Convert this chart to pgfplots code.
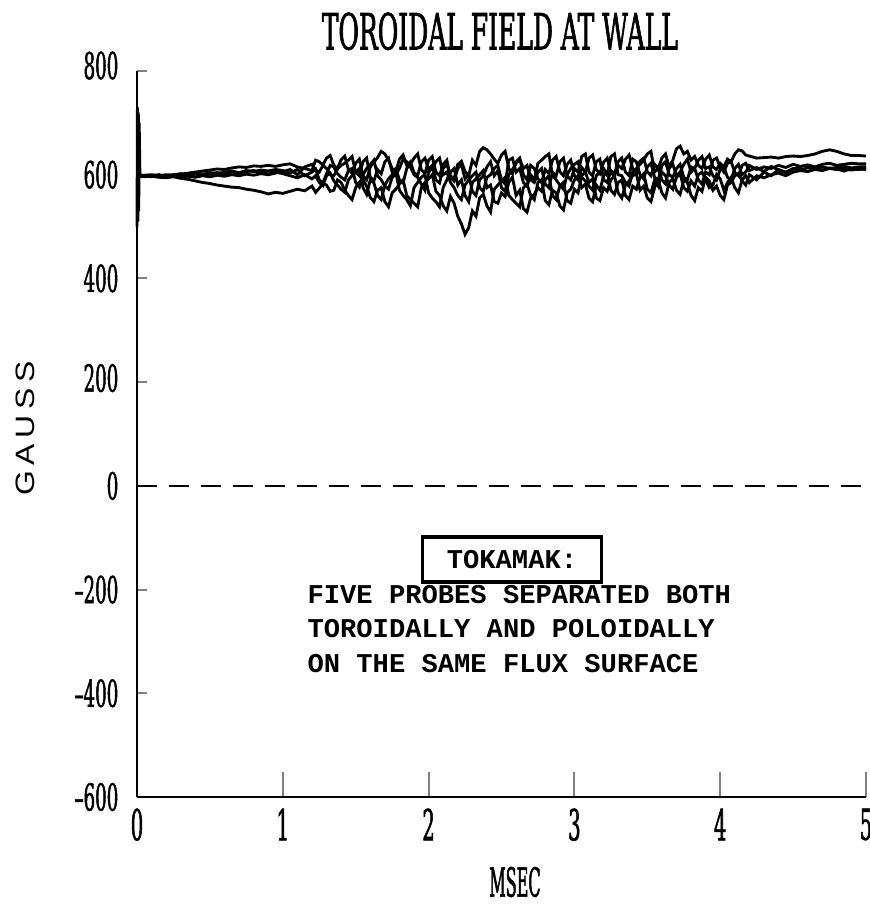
\documentclass[border=0pt]{standalone}
\usepackage{fontspec}
\usepackage{pgfplots}
\usepackage{pgfplotstable}
\pgfplotsset{compat=1.18}
\setmainfont{DejaVu Serif}
\newfontfamily\condy[FakeStretch=0.49, FakeBold=1.2]{DejaVu Serif}
\newfontfamily\condx[FakeStretch=0.46, FakeBold=1.2]{DejaVu Serif}
\newfontfamily\condt[FakeStretch=0.5, FakeBold=1.2]{DejaVu Serif}
\newfontfamily\condm[FakeStretch=0.4, FakeBold=1.2]{DejaVu Serif}
\newfontfamily\gaussfont[FakeStretch=1.2, LetterSpace=22]{Liberation Sans}
\newfontfamily\typefont{Liberation Mono}

% five probe signals, gauss vs msec
\pgfplotstableread{
x     a   b   c   d   e
0.00  598 597 598 597 599
0.05  598 596 599 598 597
0.10  597 597 600 596 598
0.15  599 595 598 599 600
0.20  598 594 600 597 596
0.25  600 596 599 598 597
0.30  601 593 602 600 595
0.35  603 591 600 598 597
0.40  605 588 603 601 595
0.45  607 585 601 599 598
0.50  609 583 604 602 596
0.55  611 580 602 604 599
0.60  610 578 605 602 597
0.65  613 576 607 605 600
0.70  615 575 604 603 598
0.75  614 572 608 606 601
0.80  617 570 606 608 599
0.85  616 567 609 604 602
0.90  618 563 607 607 600
0.95  616 566 610 605 603
1.00  619 564 608 602 606
1.05  621 568 603 598 610
1.10  615 572 610 594 600
1.15  612 569 598 600 615
1.20  608 578 605 592 620
1.225 628 566 611 598 609
1.25  625 574 590 585 605
1.275 619 583 584 579 618
1.30  632 580 602 598 612
1.325 637 568 618 603 600
1.35  618 570 615 588 598
1.375 612 590 602 580 611
1.40  629 585 595 572 618
1.425 636 570 590 566 622
1.45  610 560 608 590 628
1.475 603 552 612 598 635
1.50  622 575 585 605 605
1.525 630 586 576 612 598
1.55  598 590 600 575 625
1.575 590 578 612 562 632
1.60  615 556 620 590 595
1.625 624 548 628 584 588
1.65  633 570 598 560 610
1.675 645 575 590 552 602
1.70  640 548 578 580 625
1.725 628 538 572 592 632
1.75  612 565 595 600 605
1.775 605 572 600 605 612
1.80  630 582 612 570 590
1.825 638 590 630 560 584
1.85  618 560 625 552 612
1.875 625 552 615 540 620
1.90  604 545 600 575 632
1.925 598 538 595 585 640
1.95  625 575 582 595 610
1.975 632 585 570 600 602
2.00  610 592 605 565 628
2.025 618 600 612 555 635
2.05  590 568 625 548 605
2.075 584 560 632 538 598
2.10  612 540 600 575 620
2.125 620 530 605 590 628
2.15  598 558 585 605 595
2.175 592 545 575 612 588
2.20  620 520 560 580 612
2.225 626 505 552 590 620
2.25  606 485 580 560 592
2.275 598 498 590 548 600
2.30  628 530 598 585 568
2.325 618 520 605 592 560
2.35  645 555 575 600 590
2.375 652 562 568 608 598
2.40  648 540 595 575 615
2.425 640 528 600 580 625
2.45  630 572 612 548 598
2.475 622 580 618 545 608
2.50  638 588 590 565 575
2.525 645 595 582 558 568
2.55  612 560 628 585 600
2.575 602 552 632 595 610
2.60  625 545 605 560 622
2.625 632 538 612 570 630
2.65  600 575 585 535 612
2.675 590 582 578 528 618
2.70  618 560 600 555 590
2.725 612 552 590 562 585
2.75  592 585 622 575 605
2.775 585 590 628 568 612
2.80  610 550 635 590 582
2.825 602 542 640 598 575
2.85  628 570 598 560 605
2.875 635 565 590 552 598
2.90  606 540 580 578 625
2.925 598 532 572 585 632
2.95  620 565 600 550 598
2.975 628 572 612 545 590
3.00  598 590 620 572 612
3.025 590 598 625 565 605
3.05  614 575 595 598 635
3.075 605 582 588 605 640
3.10  632 555 578 585 605
3.125 638 548 570 592 598
3.15  610 580 598 555 625
3.175 602 570 605 550 630
3.20  624 598 612 575 590
3.225 632 605 600 568 585
3.25  603 570 635 590 608
3.275 598 562 640 598 602
3.30  618 585 600 565 625
3.325 612 590 598 555 632
3.35  630 560 585 580 605
3.375 638 552 578 588 598
3.40  612 578 605 598 630
3.425 605 572 612 602 625
3.45  626 595 620 570 600
3.475 632 602 628 578 592
3.50  606 572 640 555 615
3.525 598 565 645 548 622
3.55  620 590 605 575 595
3.575 612 578 612 590 590
3.60  632 605 590 565 618
3.625 640 598 582 555 625
3.65  615 580 612 585 600
3.675 628 572 620 592 595
3.70  650 595 598 570 612
3.725 655 602 605 562 620
3.75  640 575 620 590 595
3.775 645 568 630 585 590
3.80  628 588 605 560 615
3.825 635 578 612 550 612
3.85  618 600 628 575 590
3.875 612 605 635 568 582
3.90  630 590 612 595 605
3.925 638 575 615 588 600
3.95  615 580 598 570 628
3.975 610 600 590 578 632
4.00  622 592 610 560 615
4.025 615 570 615 552 605
4.05  630 585 595 580 622
4.075 625 595 590 585 625
4.10  640 575 612 598 605
4.125 648 565 620 602 598
4.15  646 590 600 588 618
4.175 638 598 605 580 622
4.20  636 585 618 600 608
4.25  632 598 610 590 614
4.30  633 594 615 605 606
4.35  634 600 612 598 616
4.40  632 603 618 610 609
4.45  635 598 614 605 604
4.50  636 605 620 612 611
4.55  635 608 616 608 613
4.60  637 606 619 614 606
4.65  640 610 615 612 612
4.70  645 608 620 615 609
4.75  648 612 622 612 613
4.80  645 610 618 614 611
4.85  640 611 620 616 607
4.90  637 609 622 613 612
4.95  637 611 621 615 610
5.00  636 610 621 615 612
}\probes

\begin{document}
\begin{tikzpicture}
\useasboundingbox (-47.95pt,-39.9pt) rectangle (256.55pt,278.95pt);
\begin{axis}[
    at={(0pt,0pt)}, anchor=south west,
    scale only axis,
    width=255.15pt, height=254.1pt,
    xmin=0, xmax=5, ymin=-600, ymax=800,
    axis x line*=bottom, axis y line*=left,
    axis line style={-, line width=0.7pt},
    tick align=inside,
    xtick={0,1,2,3,4,5},
    xticklabels={0,1,2,3,4,5},
    ytick={-600,-400,-200,0,200,400,600,800},
    yticklabels={–600,–400,–200,0,\raisebox{3pt}{200},400,600,\raisebox{4pt}{800}},
    xtick style={line width=0.7pt, /pgfplots/major tick length=8.75pt},
    ytick style={line width=0.7pt, /pgfplots/major tick length=3.5pt},
    xticklabel style={font=\condx\fontsize{15}{17}\selectfont, yshift=-0.5pt},
    yticklabel style={font=\condy\fontsize{13}{15}\selectfont, xshift=-3pt},
    clip=false,
]
\addplot[black, line width=0.8pt, dash pattern=on 7pt off 4.2pt] coordinates {(0,0)(5.03,0)};
\addplot[black, line width=1pt] coordinates {(0,500)(0.003,730)(0.006,510)(0.009,720)(0.012,530)(0.015,700)(0.02,600)(0.05,598)};
\addplot[black, line width=1pt] table[x=x, y=a] {\probes};
\addplot[black, line width=1pt] table[x=x, y=b] {\probes};
\addplot[black, line width=1pt] table[x=x, y=c] {\probes};
\addplot[black, line width=1pt] table[x=x, y=d] {\probes};
\addplot[black, line width=1pt] table[x=x, y=e] {\probes};

\node[draw, line width=1.2pt, minimum width=62.7pt, minimum height=15.75pt,
      inner sep=0pt, font=\typefont\bfseries\fontsize{9.5}{11}\selectfont]
      at (axis cs:2.572,-142) {TOKAMAK:};
\node[anchor=base west, inner sep=0pt, font=\typefont\bfseries\fontsize{9.5}{11}\selectfont]
      at (axis cs:1.166,-226) {FIVE PROBES SEPARATED BOTH};
\node[anchor=base west, inner sep=0pt, font=\typefont\bfseries\fontsize{9.5}{11}\selectfont]
      at (axis cs:1.166,-293) {TOROIDALLY AND POLOIDALLY};
\node[anchor=base west, inner sep=0pt, font=\typefont\bfseries\fontsize{9.5}{11}\selectfont]
      at (axis cs:1.166,-359) {ON THE SAME FLUX SURFACE};
\end{axis}
\node[font=\condt\fontsize{17.5}{20}\selectfont] at (127pt,268pt) {TOROIDAL FIELD AT WALL};
\node[rotate=90, font=\gaussfont\fontsize{9.3}{11}\selectfont] at (-39pt,129pt) {GAUSS};
\node[font=\condm\fontsize{14}{16}\selectfont] at (132.3pt,-29.75pt) {MSEC};
\end{tikzpicture}
\end{document}
